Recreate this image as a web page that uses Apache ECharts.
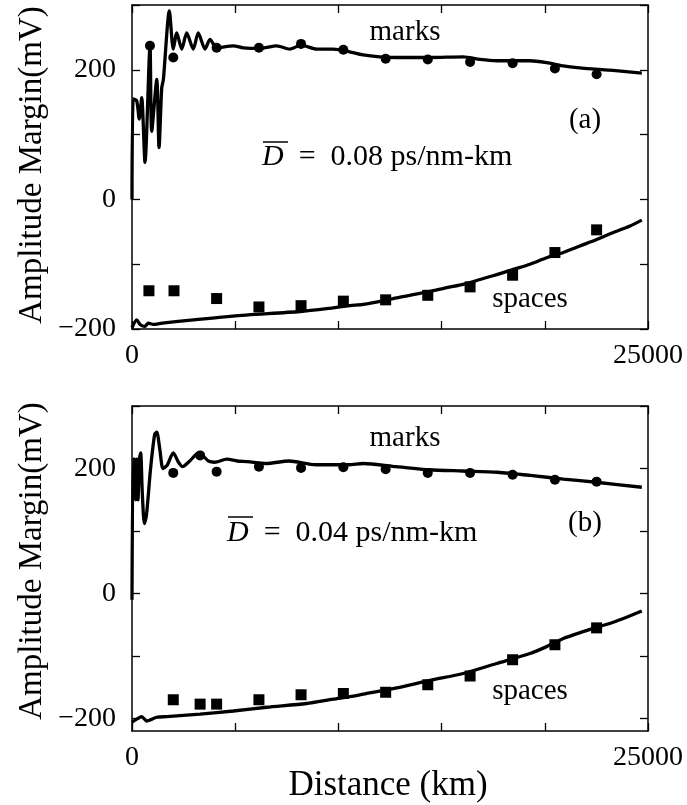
<!DOCTYPE html>
<html>
<head>
<meta charset="utf-8">
<script src="https://cdn.jsdelivr.net/npm/echarts@6/dist/echarts.min.js"></script>
<style>
html,body{margin:0;padding:0;background:#fff;}
#chart{width:687px;height:805px;}
</style>
</head>
<body>
<div id="chart"></div>
<script>
// ---------- DATA (distance km, amplitude margin mV) ----------
var xTickLabels = [0, 25000];
var yTickLabels = [-200, 0, 200];

// Panel (a): D = 0.08 ps/nm-km
var aMarksLine = [[0,0],[60,155],[230,152],[350,124],[470,157],[630,57],[872,237],[954,105],[1200,185],[1310,80],[1440,172],[1520,185],[1810,291],[2000,232],[2170,257],[2410,232],[2650,257],[2970,232],[3210,257],[3540,232],[3780,247],[4100,234],[4910,237],[5390,234],[6200,233],[7010,237],[7650,232],[8190,238],[8950,232],[9750,232],[10400,229],[11200,223],[12000,220],[12800,219],[14440,219],[16050,220],[16860,216],[17670,214],[19280,214],[20090,211],[20900,206],[21700,203],[22500,201],[23300,199],[24700,195]];
var aSpacesLine = [[0,-198],[230,-186],[390,-193],[630,-196],[790,-191],[1030,-193],[1260,-192],[1680,-190],[4890,-180],[8140,-173],[9590,-168],[10560,-164],[11200,-162],[12820,-152],[14440,-142],[15250,-136],[16050,-131],[17670,-116],[18470,-108],[19280,-100],[20090,-90],[20900,-82],[21700,-72],[22510,-62],[23320,-51],[24130,-41],[24700,-32]];
var aMarksPts = [[870,237],[2000,219],[4100,234],[6150,234],[8190,240],[10240,231],[12290,217],[14330,216],[16380,212],[18440,210],[20490,202],[22510,193]];
var aSpacesPts = [[820,-141],[2035,-141],[4100,-153],[6150,-166],[8190,-164],[10240,-157],[12290,-155],[14330,-148],[16380,-135],[18440,-117],[20490,-82],[22510,-47]];

// Panel (b): D = 0.04 ps/nm-km
var bMarksLine = [[0,-10],[50,215],[110,215],[170,150],[230,215],[290,150],[360,215],[420,225],[500,160],[600,112],[700,125],[900,200],[1100,255],[1200,258],[1350,230],[1500,200],[1700,205],[2000,225],[2250,210],[2450,203],[2800,212],[3200,224],[3450,220],[3700,212],[4000,210],[4600,215],[5100,212],[5600,211],[6500,208],[7600,212],[8900,206],[10500,206],[11200,208],[12800,203],[14400,198],[16000,196],[17700,194],[19300,189],[20900,183],[22500,178],[24700,170]];
var bSpacesLine = [[0,-206],[230,-201],[470,-197],[710,-204],[1200,-198],[1680,-197],[3300,-193],[4910,-188],[6530,-182],[8460,-176],[9750,-169],[10560,-165],[11210,-161],[12830,-151],[14440,-139],[16050,-128],[17670,-112],[19280,-96],[20090,-85],[20900,-72],[22520,-54],[23320,-46],[24700,-28]];
var bMarksPts = [[2000,193],[3300,221],[4100,195],[6150,203],[8190,201],[10240,202],[12290,199],[14330,193],[16380,193],[18440,190],[20490,182],[22510,179]];
var bSpacesPts = [[2000,-170],[3300,-177],[4100,-177],[6150,-170],[8190,-162],[10240,-160],[12290,-158],[14330,-146],[16380,-132],[18440,-106],[20490,-82],[22510,-55]];

// ---------- CHART ----------
var FONT = '"Liberation Serif","Times New Roman",serif';
var chart = echarts.init(document.getElementById('chart'), null, {renderer:'canvas'});

function fmtNum(v){ return String(v).replace('-', '\u2212'); }

function xAxisDef(grid, pos, labels){
  return {
    type:'value', gridIndex:grid, position:pos, min:0, max:25000, interval:5000,
    axisLine:{show:true, onZero:false, lineStyle:{color:'#000', width:1.5}},
    axisTick:{show:true, inside:true, length:8, lineStyle:{color:'#000', width:1.3}},
    splitLine:{show:false},
    axisLabel:{show:labels, margin:13, fontSize:28, fontFamily:FONT, color:'#000',
      formatter:function(v){ return xTickLabels.indexOf(v) >= 0 ? fmtNum(v) : ''; }}
  };
}
function yAxisDef(grid, pos, labels, min){
  return {
    type:'value', gridIndex:grid, position:pos, min:min, max:300,
    axisLine:{show:true, onZero:false, lineStyle:{color:'#000', width:1.5}},
    axisTick:{show:true, inside:true, length:8, lineStyle:{color:'#000', width:1.3},
      customValues:[-200,-100,0,100,200,300]},
    splitLine:{show:false},
    axisLabel:{show:labels, margin:16, fontSize:28, fontFamily:FONT, color:'#000',
      customValues:yTickLabels,
      formatter:function(v){ return yTickLabels.indexOf(v) >= 0 ? fmtNum(v) : ''; }}
  };
}

function lineSeries(xi, yi, data){
  return {type:'line', xAxisIndex:xi, yAxisIndex:yi, data:data, showSymbol:false, symbol:'none',
    smooth:0.25, lineStyle:{color:'#000', width:3.3}, z:3, silent:true};
}
function ptSeries(xi, yi, data, sym, size){
  return {type:'scatter', xAxisIndex:xi, yAxisIndex:yi, data:data, symbol:sym, symbolSize:size,
    itemStyle:{color:'#000', opacity:1}, z:4, silent:true};
}

function txt(x, y, s, size, align, extra){
  var o = {type:'text', x:x, y:y, z:10,
    style:{text:s, fill:'#000', font: size + 'px ' + FONT, textAlign:align||'center', textVerticalAlign:'middle'}};
  if (extra) for (var k in extra) o[k] = extra[k];
  return o;
}
function dText(x, y, s){
  return {type:'text', x:x, y:y, z:10,
    style:{text:'{d|D}\u2002=\u2002' + s + ' ps/nm-km', fill:'#000', font:'30px ' + FONT, textAlign:'left', textVerticalAlign:'middle',
      rich:{d:{fontStyle:'italic', fontSize:30, fontFamily:FONT, fill:'#000'}}}};
}
function overline(x1, x2, y){
  return {type:'line', z:10, shape:{x1:x1, y1:y, x2:x2, y2:y}, style:{stroke:'#000', lineWidth:1.5}};
}

var option = {
  backgroundColor:'#fff',
  animation:false,
  grid:[
    {left:132, top:5, width:516, height:324},
    {left:132, top:406, width:516, height:325}
  ],
  xAxis:[xAxisDef(0,'bottom',true), xAxisDef(0,'top',false), xAxisDef(1,'bottom',true), xAxisDef(1,'top',false)],
  yAxis:[yAxisDef(0,'left',true,-200), yAxisDef(0,'right',false,-200), yAxisDef(1,'left',true,-220), yAxisDef(1,'right',false,-220)],
  series:[
    lineSeries(0,0,aMarksLine), lineSeries(0,0,aSpacesLine),
    ptSeries(0,0,aMarksPts,'circle',10), ptSeries(0,0,aSpacesPts,'rect',11),
    lineSeries(2,2,bMarksLine), lineSeries(2,2,bSpacesLine),
    ptSeries(2,2,bMarksPts,'circle',10), ptSeries(2,2,bSpacesPts,'rect',11)
  ],
  graphic:[
    txt(405, 32, 'marks', 29),
    txt(585, 120, '(a)', 29),
    txt(530, 299, 'spaces', 29),
    dText(262, 157, '0.08'),
    overline(263, 288, 142),
    txt(405, 438, 'marks', 29),
    txt(585, 523, '(b)', 29),
    txt(530, 691, 'spaces', 29),
    dText(227, 533, '0.04'),
    overline(228, 253, 517),
    txt(388, 786, 'Distance (km)', 35),
    txt(32, 165, 'Amplitude Margin(mV)', 33, 'center', {rotation:Math.PI/2}),
    txt(32, 561, 'Amplitude Margin(mV)', 33, 'center', {rotation:Math.PI/2})
  ]
};
chart.setOption(option);
</script>
</body>
</html>
